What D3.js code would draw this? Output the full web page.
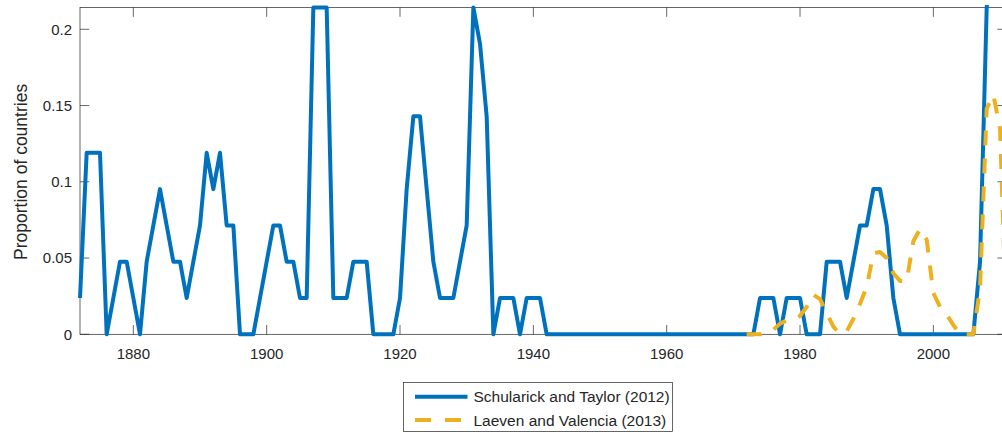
<!DOCTYPE html>
<html>
<head>
<meta charset="utf-8">
<script src="https://cdn.jsdelivr.net/npm/d3@7"></script>
<style>
  html, body { margin: 0; padding: 0; background: #fff; }
  svg { display: block; }
  text { font-family: "Liberation Sans", Arial, Helvetica, sans-serif; fill: #262626; }
</style>
</head>
<body>
<svg id="chart" width="1002" height="435"></svg>
<script>
// ---- data ----
const stYears = d3.range(1872, 2012);
const stValues = [
  0.0238, 0.1190, 0.1190, 0.1190, 0.0000, 0.0238, 0.0476, 0.0476, 0.0238, 0.0000, // 1872-1881
  0.0476, 0.0714, 0.0952, 0.0714, 0.0476, 0.0476, 0.0238, 0.0476, 0.0714, 0.1190, // 1882-1891
  0.0952, 0.1190, 0.0714, 0.0714, 0.0000, 0.0000, 0.0000, 0.0238, 0.0476, 0.0714, // 1892-1901
  0.0714, 0.0476, 0.0476, 0.0238, 0.0238, 0.2143, 0.2143, 0.2143, 0.0238, 0.0238, // 1902-1911
  0.0238, 0.0476, 0.0476, 0.0476, 0.0000, 0.0000, 0.0000, 0.0000, 0.0238, 0.0952, // 1912-1921
  0.1429, 0.1429, 0.0952, 0.0476, 0.0238, 0.0238, 0.0238, 0.0476, 0.0714, 0.2143, // 1922-1931
  0.1905, 0.1429, 0.0000, 0.0238, 0.0238, 0.0238, 0.0000, 0.0238, 0.0238, 0.0238, // 1932-1941
  0, 0, 0, 0, 0, 0, 0, 0, 0, 0,                                                   // 1942-1951
  0, 0, 0, 0, 0, 0, 0, 0, 0, 0,                                                   // 1952-1961
  0, 0, 0, 0, 0, 0, 0, 0, 0, 0,                                                   // 1962-1971
  0.0000, 0.0000, 0.0238, 0.0238, 0.0238, 0.0000, 0.0238, 0.0238, 0.0238, 0.0000, // 1972-1981
  0.0000, 0.0000, 0.0476, 0.0476, 0.0476, 0.0238, 0.0476, 0.0714, 0.0714, 0.0952, // 1982-1991
  0.0952, 0.0714, 0.0238, 0.0000, 0.0000, 0.0000, 0.0000, 0.0000, 0.0000, 0.0000, // 1992-2001
  0.0000, 0.0000, 0.0000, 0.0000, 0.0000, 0.0476, 0.2143, 0.2619, 0.2619, 0.2381  // 2002-2011
];
const lvYears = d3.range(1972, 2012);
const lvValues = [
  0.000, 0.000, 0.000, 0.001, 0.003, 0.007, 0.009, 0.010, 0.012, 0.018, // 1972-1981
  0.026, 0.023, 0.014, 0.005, 0.000, 0.002, 0.010, 0.020, 0.031, 0.053, // 1982-1991
  0.054, 0.050, 0.040, 0.035, 0.035, 0.061, 0.069, 0.062, 0.027, 0.018, // 1992-2001
  0.013, 0.006, 0.000, 0.000, 0.000, 0.030, 0.148, 0.157, 0.135, 0.000  // 2002-2011
];
const seriesNames = ["Schularick and Taylor (2012)", "Laeven and Valencia (2013)"];
const xTicks = [1880, 1900, 1920, 1940, 1960, 1980, 2000];
const yTicks = [0, 0.05, 0.1, 0.15, 0.2];
const yTickLabels = ["0", "0.05", "0.1", "0.15", "0.2"];
const yLabel = "Proportion of countries";

// ---- layout ----
const L = 80, R = 1006.7, T = 7.5, B = 334.3;
const tickLen = 9.3;
const axisColor = "#262626";
const blue = "#0072BD", yellow = "#EDB120";

const svg = d3.select("#chart");
const x = d3.scaleLinear().domain([1872, 2011]).range([L, R]);
const y = d3.scaleLinear().domain([0, 9 / 42]).range([B, T]);

// clip
svg.append("defs").append("clipPath").attr("id", "clip")
  .append("rect").attr("x", L - 3).attr("y", T - 2.5).attr("width", R - L + 6).attr("height", B - T + 6);

// ticks (inward, on all four sides)
const g = svg.append("g");
xTicks.forEach(t => {
  g.append("line").attr("x1", x(t)).attr("x2", x(t)).attr("y1", B).attr("y2", B - tickLen)
    .attr("stroke", axisColor).attr("stroke-width", 0.7);
  g.append("line").attr("x1", x(t)).attr("x2", x(t)).attr("y1", T).attr("y2", T + tickLen)
    .attr("stroke", axisColor).attr("stroke-width", 0.7);
  g.append("text").attr("x", x(t)).attr("y", 359).attr("text-anchor", "middle")
    .attr("font-size", "15px").text(t);
});
yTicks.forEach((t, i) => {
  g.append("line").attr("x1", L).attr("x2", L + tickLen).attr("y1", y(t)).attr("y2", y(t))
    .attr("stroke", axisColor).attr("stroke-width", 0.7);
  g.append("line").attr("x1", R).attr("x2", R - tickLen).attr("y1", y(t)).attr("y2", y(t))
    .attr("stroke", axisColor).attr("stroke-width", 0.7);
  g.append("text").attr("x", L - 8).attr("y", y(t)).attr("dy", "0.36em").attr("text-anchor", "end")
    .attr("font-size", "15px").text(yTickLabels[i]);
});

// box
svg.append("rect").attr("x", L).attr("y", T).attr("width", R - L).attr("height", B - T)
  .attr("fill", "none").attr("stroke", axisColor).attr("stroke-width", 0.7);

// y label
svg.append("text").attr("transform", `translate(27,${(T + B) / 2 + 1}) rotate(-90)`)
  .attr("text-anchor", "middle").attr("font-size", "17.5px").text(yLabel);

// lines
const line = d3.line().x(d => x(d[0])).y(d => y(d[1]));
const plot = svg.append("g").attr("clip-path", "url(#clip)");
plot.append("path").datum(stYears.map((yr, i) => [yr, stValues[i]]))
  .attr("d", line).attr("fill", "none").attr("stroke", blue).attr("stroke-width", 4)
  .attr("stroke-linejoin", "round");
plot.append("path").datum(lvYears.map((yr, i) => [yr, lvValues[i]]))
  .attr("d", line).attr("fill", "none").attr("stroke", yellow).attr("stroke-width", 4)
  .attr("stroke-dasharray", "15,13").attr("stroke-linejoin", "round");

// legend
const lg = svg.append("g");
lg.append("rect").attr("x", 403.5).attr("y", 382.5).attr("width", 269).attr("height", 49)
  .attr("fill", "#fff").attr("stroke", axisColor).attr("stroke-width", 0.7);
const rows = [396.7, 420];
[blue, yellow].forEach((c, i) => {
  const ln = lg.append("line").attr("x1", 415).attr("x2", 467.5).attr("y1", rows[i]).attr("y2", rows[i])
    .attr("stroke", c).attr("stroke-width", 4);
  if (i === 1) ln.attr("stroke-dasharray", "16,14");
  lg.append("text").attr("x", 473.5).attr("y", rows[i]).attr("dy", "0.36em")
    .attr("font-size", "15.5px").text(seriesNames[i]);
});
</script>
</body>
</html>
